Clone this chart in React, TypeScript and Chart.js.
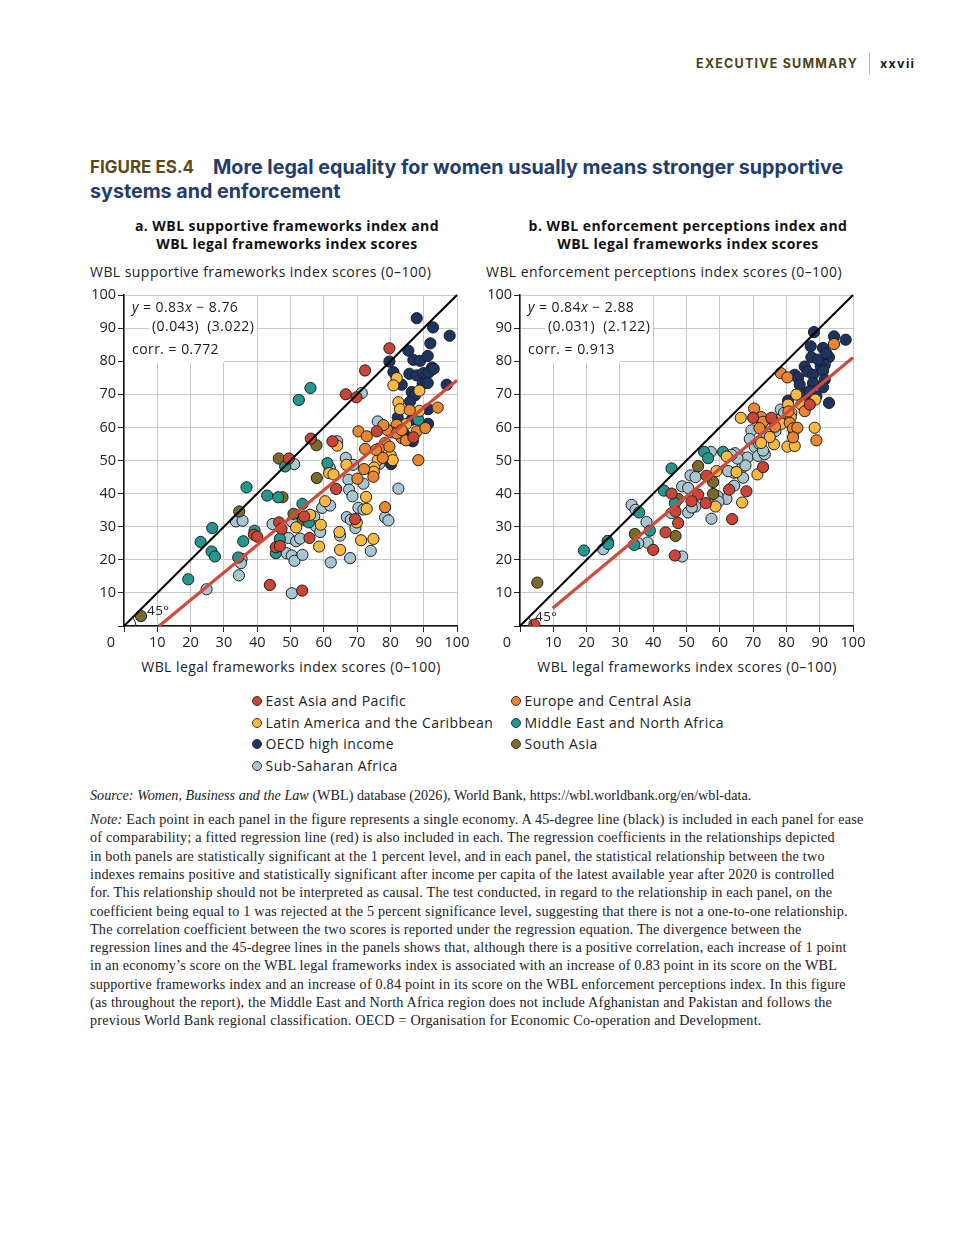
import React, { useEffect, useRef } from "react";
import { Chart, registerables } from "chart.js";

Chart.register(...registerables);
Chart.defaults.font.family = "'Open Sans', sans-serif";
Chart.defaults.color = "#222";

type Pt = [number, number];

// ---------- categories ----------
const regionNames = [
  "East Asia and Pacific",
  "Europe and Central Asia",
  "Latin America and the Caribbean",
  "Middle East and North Africa",
  "OECD high income",
  "South Asia",
  "Sub-Saharan Africa",
];
const regionColors = ["#cc4436", "#ea8630", "#f9b940", "#22968f", "#1d3461", "#7a6a2c", "#a7c6d1"];

const axisTicks = [0, 10, 20, 30, 40, 50, 60, 70, 80, 90, 100];

// ---------- panel a: legal (x) vs supportive (y) ----------
const aEastAsiaPacific: Pt[] = [[79.7,83.9],[72.4,77.2],[66.6,70.0],[69.8,69.1],[56.1,56.6],[49.5,50.6],[62.6,55.8],[75.9,58.8],[86.9,57.0],[39.0,27.6],[40.0,27.0],[46.6,31.3],[47.3,29.4],[45.6,23.8],[46.8,24.2],[55.7,26.6],[63.7,41.4],[43.8,12.4],[53.5,10.7],[54.1,33.1],[69.4,32.3]];
const aEuropeCentralAsia: Pt[] = [[94.2,66.0],[85.8,65.2],[81.9,60.8],[80.4,58.5],[79.1,59.2],[70.4,58.8],[72.9,57.3],[77.9,60.7],[83.4,56.8],[84.7,56.1],[87.9,58.8],[90.5,59.8],[72.4,53.5],[76.6,53.6],[72.1,47.4],[77.7,50.8],[88.4,50.1],[70.1,44.5],[74.9,45.1],[78.4,35.9],[81.9,58.2],[83.4,59.2],[79.7,54.2],[75.7,53.2]];
const aLatinAmerica: Pt[] = [[81.9,74.9],[80.9,72.7],[88.7,71.1],[82.4,67.6],[82.9,65.5],[88.7,65.0],[84.7,61.0],[78.4,55.3],[80.1,51.5],[80.7,50.1],[76.2,50.1],[75.1,47.9],[61.6,46.2],[62.9,45.8],[66.8,48.7],[64.0,54.5],[51.7,29.8],[59.1,30.6],[55.9,33.6],[60.4,37.7],[58.6,24.0],[64.7,28.4],[64.9,23.0],[69.9,31.3],[71.2,25.9],[72.7,39.0],[72.9,35.4],[74.9,26.3],[75.0,46.6]];
const aMiddleEast: Pt[] = [[56.0,71.9],[52.5,68.3],[88.4,62.3],[48.4,48.2],[61.1,49.2],[36.8,41.9],[43.0,39.4],[46.3,38.9],[53.6,36.9],[26.5,29.6],[23.0,25.4],[26.3,22.5],[27.3,21.0],[39.2,28.8],[35.8,25.6],[34.3,20.7],[19.3,14.1],[46.8,26.3],[45.6,22.0],[55.5,31.3]];
const aOecd: Pt[] = [[87.9,93.0],[92.8,90.2],[97.8,87.7],[92.0,85.4],[85.4,83.2],[79.7,79.9],[86.9,80.4],[88.9,80.1],[91.2,81.6],[92.5,78.1],[80.9,76.7],[85.7,76.2],[87.9,75.7],[89.9,76.4],[91.5,76.6],[93.0,77.7],[83.4,72.9],[89.7,73.2],[91.2,73.4],[96.9,72.9],[86.4,70.7],[87.4,69.7],[85.9,67.8],[91.3,65.5],[82.2,63.0],[86.4,62.3],[91.3,61.1],[84.1,58.1],[86.7,55.8],[80.2,48.9]];
const aSouthAsia: Pt[] = [[57.8,54.6],[46.5,50.6],[47.6,38.9],[34.6,34.6],[57.9,44.7],[50.9,33.9],[53.7,32.1],[5.1,3.0]];
const aSubSaharan: Pt[] = [[71.4,70.4],[51.1,48.9],[64.0,55.8],[76.2,61.8],[66.6,50.8],[68.8,48.7],[76.7,49.0],[74.9,46.4],[61.8,47.7],[24.8,11.1],[34.5,15.3],[35.3,20.3],[35.1,19.0],[33.6,31.6],[35.6,31.8],[44.6,30.8],[50.4,31.6],[49.4,26.6],[48.8,22.0],[50.4,21.3],[51.2,19.7],[51.7,25.6],[52.9,26.4],[53.6,21.5],[50.4,9.9],[57.1,33.1],[57.7,30.1],[58.9,28.4],[59.5,35.7],[61.9,36.4],[62.1,19.2],[64.9,27.3],[67.4,44.2],[67.6,41.2],[68.6,39.2],[71.9,43.0],[66.9,32.9],[68.1,32.1],[69.5,29.6],[70.4,35.7],[71.9,35.2],[67.9,20.5],[74.1,22.7],[78.4,32.8],[79.4,31.9],[82.4,41.5]];

// ---------- panel b: legal (x) vs enforcement (y) ----------
const bEastAsiaPacific: Pt[] = [[70.0,62.9],[75.5,62.9],[87.0,66.9],[73.0,48.0],[56.0,45.4],[68.0,40.7],[62.8,41.2],[63.7,32.3],[55.8,37.1],[53.5,39.7],[51.5,37.7],[45.5,40.0],[46.7,34.6],[47.5,31.1],[43.7,28.3],[46.5,21.3],[40.0,23.0],[4.3,0.4]];
const bEuropeCentralAsia: Pt[] = [[94.3,85.2],[78.3,76.4],[80.3,75.1],[70.3,65.7],[72.5,63.1],[73.0,61.7],[75.6,62.6],[85.5,64.9],[81.0,61.4],[82.0,59.7],[83.3,59.9],[82.0,57.0],[89.0,56.1],[76.6,60.2],[71.9,59.8],[80.6,64.8]];
const bLatinAmerica: Pt[] = [[83.0,69.9],[88.7,68.4],[66.3,62.9],[72.8,61.4],[80.5,66.9],[81.5,64.4],[84.5,66.9],[88.5,59.9],[80.3,54.2],[82.5,54.4],[76.3,54.9],[75.0,57.1],[78.5,61.1],[71.3,45.8],[59.0,46.8],[65.0,46.5],[66.7,37.3],[58.7,36.1],[62.1,51.2],[72.4,55.3],[81.3,63.1]];
const bMiddleEast: Pt[] = [[55.3,52.6],[61.0,52.6],[56.5,50.7],[45.5,47.6],[43.2,40.9],[46.5,37.1],[39.0,28.8],[35.8,34.3],[26.3,25.7],[26.5,24.8],[19.2,22.8],[34.3,24.5]];
const bOecd: Pt[] = [[88.3,88.8],[94.3,87.5],[97.8,86.5],[87.3,84.5],[91.0,84.0],[92.8,81.2],[87.5,81.2],[92.0,82.4],[91.5,78.9],[90.3,78.4],[85.5,78.4],[86.3,76.9],[88.0,75.9],[82.5,75.9],[83.5,74.9],[84.0,72.9],[91.0,77.1],[91.5,74.4],[91.0,72.1],[88.0,73.4],[85.8,70.1],[89.0,69.4],[92.8,67.4],[80.5,68.1],[87.0,71.0],[89.5,80.5]];
const bSouthAsia: Pt[] = [[53.5,48.3],[58.0,43.5],[58.0,39.9],[47.5,38.4],[46.7,27.2],[34.5,27.8],[5.2,13.1]];
const bSubSaharan: Pt[] = [[69.5,59.1],[78.3,65.4],[79.3,64.4],[82.2,58.9],[76.7,58.9],[74.0,58.1],[70.5,54.1],[71.8,55.1],[66.7,50.9],[68.3,50.9],[71.5,51.4],[73.5,51.9],[66.7,47.9],[67.0,44.8],[64.3,46.3],[57.3,52.6],[51.2,45.5],[52.7,45.0],[48.7,42.2],[50.5,41.7],[62.5,46.8],[67.7,48.5],[64.3,42.4],[62.0,38.4],[59.3,39.2],[58.7,37.4],[57.5,32.4],[52.7,36.1],[50.5,34.3],[45.5,34.1],[48.7,21.0],[38.0,31.4],[38.3,25.2],[33.5,36.6],[34.7,35.1],[35.5,25.0],[25.0,23.2],[64.6,52.2],[65.3,50.6],[51.6,35.8],[59.6,37.6],[77.1,62.2],[63.5,51.7],[69.0,56.5],[73.0,53.0]];

// ---------- reference lines ----------
const line45: Pt[] = [[0, 0], [100, 100]];
const regLineA: Pt[] = [[10.55, 0], [100, 74.24]];
const regLineB: Pt[] = [[9.8, 5.35], [100, 81.12]];

const panelAGroups = [aEastAsiaPacific, aEuropeCentralAsia, aLatinAmerica, aMiddleEast, aOecd, aSouthAsia, aSubSaharan];
const panelBGroups = [bEastAsiaPacific, bEuropeCentralAsia, bLatinAmerica, bMiddleEast, bOecd, bSouthAsia, bSubSaharan];

const noteLines = [
  "Each point in each panel in the figure represents a single economy. A 45-degree line (black) is included in each panel for ease",
  "of comparability; a fitted regression line (red) is also included in each. The regression coefficients in the relationships depicted",
  "in both panels are statistically significant at the 1 percent level, and in each panel, the statistical relationship between the two",
  "indexes remains positive and statistically significant after income per capita of the latest available year after 2020 is controlled",
  "for. This relationship should not be interpreted as causal. The test conducted, in regard to the relationship in each panel, on the",
  "coefficient being equal to 1 was rejected at the 5 percent significance level, suggesting that there is not a one-to-one relationship.",
  "The correlation coefficient between the two scores is reported under the regression equation. The divergence between the",
  "regression lines and the 45-degree lines in the panels shows that, although there is a positive correlation, each increase of 1 point",
  "in an economy\u2019s score on the WBL legal frameworks index is associated with an increase of 0.83 point in its score on the WBL",
  "supportive frameworks index and an increase of 0.84 point in its score on the WBL enforcement perceptions index. In this figure",
  "(as throughout the report), the Middle East and North Africa region does not include Afghanistan and Pakistan and follows the",
  "previous World Bank regional classification. OECD = Organisation for Economic Co-operation and Development.",
];

const FONT = "14px 'Open Sans', sans-serif";
const FONT_I = "italic 14px 'Open Sans', sans-serif";
const CANVAS_LS = "0.45px";

function segWidth(ctx: CanvasRenderingContext2D, segs: [string, boolean][]) {
  let w = 0;
  for (const [t, it] of segs) {
    ctx.font = it ? FONT_I : FONT;
    w += ctx.measureText(t).width;
  }
  return w;
}
function drawSegs(ctx: CanvasRenderingContext2D, segs: [string, boolean][], x: number, y: number) {
  let cx = x;
  for (const [t, it] of segs) {
    ctx.font = it ? FONT_I : FONT;
    ctx.fillText(t, cx, y);
    cx += ctx.measureText(t).width;
  }
}

const overlayPlugin = {
  id: "overlay",
  beforeDatasetsDraw(chart: any, _args: any, opts: any) {
    const { ctx, chartArea: a, scales } = chart;
    const ys = scales.y;
    ctx.save();
    (ctx as any).letterSpacing = CANVAS_LS;
    const segs = opts.eq as [string, boolean][];
    const w1 = segWidth(ctx, segs);
    ctx.font = FONT;
    const w2 = ctx.measureText(opts.se).width;
    const w3 = ctx.measureText(opts.corr).width;
    const x1 = a.left + 8;
    const x2 = a.left + 28;
    ctx.fillStyle = "#fff";
    ctx.fillRect(a.left + 1, a.top + 1, 8 + w1 + 2, 20);
    ctx.fillRect(x2 - 3, a.top + 21, w2 + 5, 20);
    const b3 = ys.getPixelForValue(80) + 1.5;
    ctx.fillRect(a.left + 1, a.top + 41, Math.max(8 + w3 + 4, 99), b3 - (a.top + 41));
    ctx.fillStyle = "#1a1a1a";
    ctx.textBaseline = "middle";
    ctx.textAlign = "left";
    drawSegs(ctx, segs, x1, a.top + 13);
    ctx.font = FONT;
    ctx.fillText(opts.se, x2, a.top + 32);
    ctx.fillText(opts.corr, x1, a.top + 55);
    ctx.restore();
  },
  afterDraw(chart: any, _args: any, opts: any) {
    const { ctx, chartArea: a } = chart;
    ctx.save();
    ctx.font = "14.5px 'Open Sans', sans-serif";
    ctx.fillStyle = "#222";
    ctx.textAlign = "center";
    ctx.textBaseline = "middle";
    ctx.fillText("0", a.left - 13, a.bottom + 16.5);
    ctx.textAlign = "left";
    (ctx as any).letterSpacing = CANVAS_LS;
    ctx.font = "13.5px 'Open Sans', sans-serif";
    ctx.fillText("45\u00b0", a.left + opts.angleDx, a.bottom - opts.angleDy);
    ctx.beginPath();
    ctx.arc(a.left, a.bottom, 12, -Math.PI / 4, 0);
    ctx.strokeStyle = "#222";
    ctx.lineWidth = 1;
    ctx.stroke();
    ctx.restore();
  },
};

function toXY(p: Pt[]) {
  return p.map(([x, y]) => ({ x, y }));
}

function axis(kind: "x" | "y") {
  return {
    type: "linear",
    min: axisTicks[0],
    max: axisTicks[axisTicks.length - 1],
    afterBuildTicks: (s: any) => {
      s.ticks = axisTicks.map((v) => ({ value: v }));
    },
    ticks: {
      autoSkip: false,
      maxRotation: 0,
      padding: 2,
      color: "#222",
      font: { size: 14.5 },
      callback: (v: any) => (v === 0 ? "" : String(v)),
    },
    grid: { color: "#c9c9c9", lineWidth: 1, tickLength: 6, tickColor: "#222", drawTicks: true },
    border: { color: "#111", width: 1.5 },
    afterFit: (s: any) => {
      if (kind === "x") s.height = 29;
      else s.width = 40;
      s.paddingLeft = 0;
      s.paddingRight = 0;
      s.paddingTop = 0;
      s.paddingBottom = 0;
    },
  };
}

type PanelProps = {
  left: number;
  top: number;
  groups: Pt[][];
  reg: Pt[];
  eq: [string, boolean][];
  se: string;
  corr: string;
  angleDx: number;
  angleDy: number;
};

function Panel(p: PanelProps) {
  const ref = useRef<HTMLCanvasElement>(null);
  useEffect(() => {
    const datasets: any[] = p.groups.map((g, i) => ({
      label: regionNames[i],
      data: toXY(g),
      backgroundColor: regionColors[i],
      borderColor: "#1e1e1e",
      borderWidth: 1,
      pointRadius: 5.6,
      pointHoverRadius: 5.6,
      clip: 0,
      order: 1,
    }));
    datasets.push({
      label: "45",
      data: toXY(line45),
      showLine: true,
      borderColor: "#000",
      borderWidth: 2,
      pointRadius: 0,
      clip: 1,
      order: 0,
    });
    datasets.push({
      label: "reg",
      data: toXY(p.reg),
      showLine: true,
      borderColor: "#d04a3e",
      borderWidth: 3.2,
      pointRadius: 0,
      clip: 1,
      order: 0,
    });
    const chart = new Chart(ref.current as HTMLCanvasElement, {
      type: "scatter",
      data: { datasets },
      options: {
        responsive: false,
        animation: false,
        events: [],
        layout: { padding: { top: 10, right: 17, left: 0, bottom: 0 } },
        scales: { x: axis("x") as any, y: axis("y") as any },
        plugins: {
          legend: { display: false },
          tooltip: { enabled: false },
          overlay: { eq: p.eq, se: p.se, corr: p.corr, angleDx: p.angleDx, angleDy: p.angleDy },
        } as any,
      },
      plugins: [overlayPlugin as any],
    });
    return () => chart.destroy();
  }, []);
  return (
    <canvas
      ref={ref}
      width={390}
      height={370}
      style={{ position: "absolute", left: p.left, top: p.top, width: 390, height: 370 }}
    />
  );
}

const sans = "'Open Sans', sans-serif";
const serif = "'Liberation Serif', 'Times New Roman', serif";
const LS = 0.45;

function Abs(props: { x: number; y: number; style?: React.CSSProperties; children: React.ReactNode }) {
  return (
    <div style={{ position: "absolute", left: props.x, top: props.y, whiteSpace: "nowrap", ...props.style }}>
      {props.children}
    </div>
  );
}

export default function App() {
  const legendRows = [
    [0, 1],
    [2, 3],
    [4, 5],
    [6, -1],
  ];
  const titleStyle: React.CSSProperties = { fontFamily: "Inter, sans-serif", fontWeight: 700, fontSize: 19.7, color: "#223d6b", lineHeight: "24px" };
  const panelTitle: React.CSSProperties = { position: "absolute", width: 420, top: 217, textAlign: "center", fontFamily: sans, fontWeight: 700, fontSize: 14, letterSpacing: LS, lineHeight: "18px", color: "#111" };
  const axisTitle: React.CSSProperties = { fontFamily: sans, fontSize: 14, letterSpacing: LS, lineHeight: "20px", color: "#222" };
  return (
    <div style={{ position: "absolute", left: 0, top: 0, width: 960, height: 1260, background: "#fff", overflow: "hidden" }}>
      {/* header */}
      <div
        style={{
          position: "absolute",
          right: 102,
          top: 55,
          fontFamily: "Inter, sans-serif",
          fontWeight: 700,
          fontSize: 12.5,
          letterSpacing: 1.2,
          color: "#4e4116",
          lineHeight: "18px",
          whiteSpace: "nowrap",
        }}
      >
        EXECUTIVE SUMMARY
      </div>
      <div style={{ position: "absolute", left: 869, top: 53, width: 1, height: 21, background: "#c9b98c" }} />
      <Abs x={880} y={55} style={{ fontFamily: "Inter, sans-serif", fontWeight: 700, fontSize: 12.5, letterSpacing: 1.3, color: "#1a1a1a", lineHeight: "18px" }}>
        xxvii
      </Abs>

      {/* title */}
      <Abs x={90} y={155} style={{ fontFamily: "Inter, sans-serif", fontWeight: 700, fontSize: 17, color: "#5a4a17", lineHeight: "24px" }}>
        FIGURE ES.4
      </Abs>
      <Abs x={213} y={155} style={titleStyle}>
        More legal equality for women usually means stronger supportive
      </Abs>
      <Abs x={90} y={179} style={titleStyle}>
        systems and enforcement
      </Abs>

      {/* panel titles */}
      <div style={{ ...panelTitle, left: 77 }}>
        a. WBL supportive frameworks index and
        <br />
        WBL legal frameworks index scores
      </div>
      <div style={{ ...panelTitle, left: 478 }}>
        b. WBL enforcement perceptions index and
        <br />
        WBL legal frameworks index scores
      </div>

      {/* y axis titles */}
      <Abs x={90} y={262} style={axisTitle}>
        WBL supportive frameworks index scores (0–100)
      </Abs>
      <Abs x={486} y={262} style={axisTitle}>
        WBL enforcement perceptions index scores (0–100)
      </Abs>

      <Panel
        left={84}
        top={285}
        groups={panelAGroups}
        reg={regLineA}
        eq={[["y", true], [" = 0.83", false], ["x", true], [" \u2212 8.76", false]]}
        se="(0.043)  (3.022)"
        corr="corr. = 0.772"
        angleDx={23}
        angleDy={15}
      />
      <Panel
        left={480}
        top={285}
        groups={panelBGroups}
        reg={regLineB}
        eq={[["y", true], [" = 0.84", false], ["x", true], [" \u2212 2.88", false]]}
        se="(0.031)  (2.122)"
        corr="corr. = 0.913"
        angleDx={15}
        angleDy={9}
      />

      {/* x axis titles */}
      <div style={{ ...axisTitle, position: "absolute", left: 91, width: 400, top: 657, textAlign: "center" }}>
        WBL legal frameworks index scores (0–100)
      </div>
      <div style={{ ...axisTitle, position: "absolute", left: 487, width: 400, top: 657, textAlign: "center" }}>
        WBL legal frameworks index scores (0–100)
      </div>

      {/* legend */}
      {legendRows.map((row, r) =>
        row.map((idx, c) =>
          idx < 0 ? null : (
            <div
              key={`${r}-${c}`}
              style={{ position: "absolute", left: c === 0 ? 252 : 511, top: 691 + r * 21.7, height: 20, display: "flex", alignItems: "center", whiteSpace: "nowrap" }}
            >
              <span
                style={{
                  display: "inline-block",
                  width: 8,
                  height: 8,
                  borderRadius: "50%",
                  background: regionColors[idx],
                  border: "1px solid #333",
                  marginRight: 3.5,
                }}
              />
              <span style={{ ...axisTitle }}>{regionNames[idx]}</span>
            </div>
          )
        )
      )}

      {/* source and note */}
      <Abs x={90} y={786} style={{ fontFamily: serif, fontSize: 14.2, lineHeight: "18px", color: "#222" }}>
        <i>Source: Women, Business and the Law</i> (WBL) database (2026), World Bank, https://wbl.worldbank.org/en/wbl-data.
      </Abs>
      {noteLines.map((t, i) => (
        <Abs key={i} x={90} y={810 + i * 18.3} style={{ fontFamily: serif, fontSize: 14.2, letterSpacing: 0.2, lineHeight: "18px", color: "#222" }}>
          {i === 0 ? (
            <>
              <i>Note:</i> {t}
            </>
          ) : (
            t
          )}
        </Abs>
      ))}
    </div>
  );
}
